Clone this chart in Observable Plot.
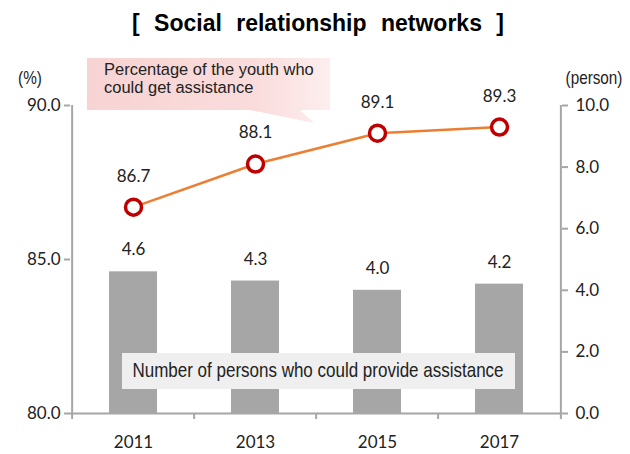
<!DOCTYPE html>
<html>
<head>
<meta charset="utf-8">
<script src="https://cdn.jsdelivr.net/npm/d3@7"></script>
<script src="https://cdn.jsdelivr.net/npm/@observablehq/plot@0.6"></script>
<style>
  html, body { margin: 0; padding: 0; background: #fff; }
  #title { width: 630px; height: 44px; text-align: center; font-family: "Liberation Sans", Arial, sans-serif; font-weight: bold; font-size: 23px; line-height: 46px; word-spacing: 8px; color: #000; padding-left: 6px; box-sizing: border-box; }
</style>
</head>
<body>
<div id="title">[ Social relationship networks ]</div>
<div id="chart"></div>
<script>
const years = ["2011", "2013", "2015", "2017"];
const youthPct = [86.7, 88.1, 89.1, 89.3];
const persons = [4.6, 4.3, 4.0, 4.2];
const leftTicks = [80, 85, 90];
const rightTicks = [0, 2, 4, 6, 8, 10];
const lineLabel = ["Percentage of the youth who", "could get assistance"];
const barLabel = "Number of persons who could provide assistance";

const rows = years.map((y, i) => ({year: y, pct: youthPct[i], persons: persons[i]}));

const W = 630, H = 410, mL = 70, mR = 69, mT = 61, mB = 41;
const bw = (W - mL - mR) / years.length;
const pctDomain = [80, 90], personDomain = [0, 10];
// map persons (right axis) onto the percent scale
const personToY = p => pctDomain[0] + (p - personDomain[0]) * (pctDomain[1] - pctDomain[0]) / (personDomain[1] - personDomain[0]);

const numFont = "Lato, 'Open Sans', sans-serif";
const axisGray = "#a6a6a6";

const plot = Plot.plot({
  width: W, height: H,
  marginLeft: mL, marginRight: mR, marginTop: mT, marginBottom: mB,
  x: {type: "band", domain: years, padding: 0},
  y: {domain: pctDomain},
  style: {fontFamily: numFont, fontSize: "17px", color: "#222", background: "white"},
  marks: [
    Plot.barY(rows, {x: "year", y1: pctDomain[0], y2: d => personToY(d.persons), fill: "#a6a6a6", insetLeft: 37, insetRight: 37}),
    Plot.text(rows, {x: "year", y: d => personToY(d.persons), text: d => d.persons.toFixed(1), dy: -22, fontSize: 17, fill: "#222"}),
    // axis lines
    Plot.ruleY([pctDomain[0]], {stroke: axisGray, strokeWidth: 2}),
    Plot.ruleX([years[0]], {dx: -bw / 2, stroke: axisGray, strokeWidth: 2}),
    Plot.ruleX([years[years.length - 1]], {dx: bw / 2, stroke: axisGray, strokeWidth: 2}),
    // left axis
    Plot.axisY(leftTicks, {anchor: "left", tickSize: 6, tickPadding: 4, stroke: axisGray, strokeWidth: 2, fill: "#222", tickFormat: d => d.toFixed(1), fontSize: 17, label: null}),
    // right axis
    Plot.axisY(rightTicks.map(personToY), {anchor: "right", tickSize: 6, tickPadding: 8, stroke: axisGray, strokeWidth: 2, fill: "#222", tickFormat: v => (personDomain[0] + (v - pctDomain[0]) * (personDomain[1] - personDomain[0]) / (pctDomain[1] - pctDomain[0])).toFixed(1), fontSize: 17, label: null}),
    // bottom axis: labels and boundary ticks
    Plot.axisX({tickSize: 0, tickPadding: 22, fill: "#222", fontSize: 17, label: null}),
    Plot.axisX({tickSize: 6, tickFormat: () => "", stroke: axisGray, strokeWidth: 2, dx: -bw / 2, label: null}),
    Plot.axisX([years[years.length - 1]], {tickSize: 6, tickFormat: () => "", stroke: axisGray, strokeWidth: 2, dx: bw / 2, label: null}),
    // line series
    Plot.line(rows, {x: "year", y: "pct", stroke: "#ed7d31", strokeWidth: 2.5}),
    Plot.dot(rows, {x: "year", y: "pct", r: 8, stroke: "#c00000", strokeWidth: 3.5, fill: "white"}),
    Plot.text(rows, {x: "year", y: "pct", text: d => d.pct.toFixed(1), dy: -31, fontSize: 17, fill: "#222"})
  ]
});

document.getElementById("chart").appendChild(plot);

const svg = d3.select(plot);
const narrow = "'Liberation Sans', Arial, sans-serif";

// condensed text helper: draws one text line with a horizontal squeeze
function narrowText(parent, x, y, line, opts) {
  const size = opts.size || 20, squeeze = opts.squeeze || 0.85, anchor = opts.anchor || "start";
  const g = parent.append("g").attr("transform", `translate(${x},${y}) scale(${squeeze},1)`);
  g.append("text")
    .attr("font-family", narrow).attr("font-size", size).attr("fill", "#222")
    .attr("text-anchor", anchor).attr("dominant-baseline", opts.baseline || "auto")
    .text(line);
  return g;
}

// callout behind everything
const callout = svg.insert("g", ":first-child");
svg.insert("rect", ":first-child").attr("width", W).attr("height", H).attr("fill", "white");
const grad = svg.append("defs").append("linearGradient").attr("id", "pinkGrad").attr("x1", 0).attr("x2", 1);
grad.append("stop").attr("offset", "0%").attr("stop-color", "#f8d3d3");
grad.append("stop").attr("offset", "70%").attr("stop-color", "#fadcdc");
grad.append("stop").attr("offset", "100%").attr("stop-color", "#fdeeee");
callout.append("path")
  .attr("d", "M87,14 H330 V66 H300 L314,79 L250,66 H87 Z")
  .attr("fill", "url(#pinkGrad)");
lineLabel.forEach((line, i) => narrowText(callout, 104, 31 + i * 18, line, {size: 17, squeeze: 0.97}));

// unit labels
narrowText(svg, 30, 40, "(%)", {size: 18, squeeze: 0.85, anchor: "middle"});
narrowText(svg, 594, 40, "(person)", {size: 18, squeeze: 0.85, anchor: "middle"});

// bar-series label box
const box = svg.append("g");
box.append("rect").attr("x", 122).attr("y", 309).attr("width", 393).attr("height", 36).attr("fill", "#efefef");
narrowText(box, 318, 328, barLabel, {size: 20, squeeze: 0.85, anchor: "middle", baseline: "middle"});
</script>
</body>
</html>
